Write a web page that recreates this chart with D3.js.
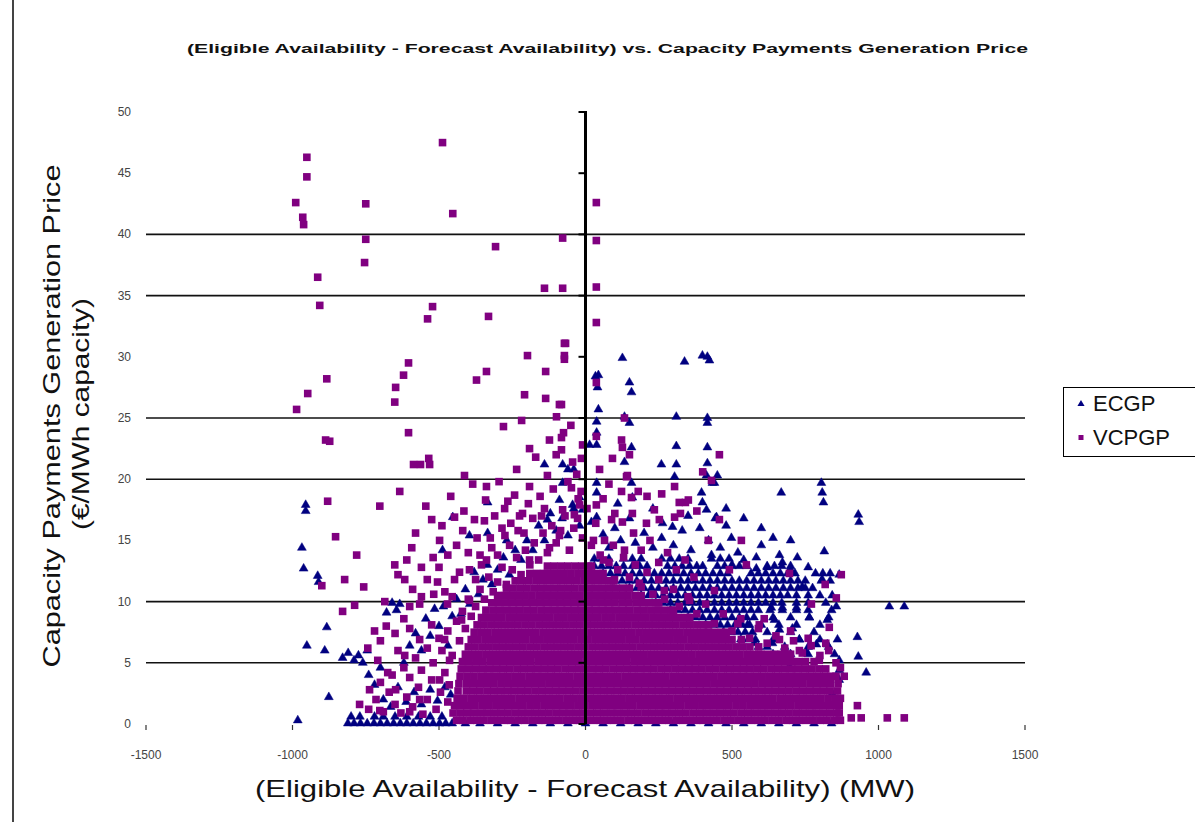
<!DOCTYPE html>
<html>
<head>
<meta charset="utf-8">
<script src="https://cdn.jsdelivr.net/npm/d3@7"></script>
<style>
  body { margin: 0; background: #fff; }
  text { font-family: Arial, "Liberation Sans", sans-serif; }
</style>
</head>
<body>
<div id="container"></div>
<script>
/* DATA */
var xTicks = [-1500, -1000, -500, 0, 500, 1000, 1500];
var yTicks = [0, 5, 10, 15, 20, 25, 30, 35, 40, 45, 50];
var gridValues = [5, 10, 20, 25, 35, 40];
var seriesNames = ['ECGP', 'VCPGP'];

// dense bottom mass of VCPGP, read row by row: [price, [MW values]]
var vcpgpCore = [
  [0.3, [-440,-418,-394,-371,-348,-323,-301,-277,-254,-230,-207,-183,-160,-137,-113,-90,-66,-43,-20,4,27,51,74,98,121,145,168,191,215,238,262,285,309,332,356,379,402,426,449,473,496,520,543,566,590,613,637,660,684,707,730,754,777,801,824,848,870]],
  [0.9, [-452,-428,-405,-382,-358,-335,-311,-288,-265,-241,-218,-195,-171,-148,-125,-101,-78,-55,-31,-8,16,39,62,86,109,133,156,179,203,226,250,273,296,320,343,367,390,413,437,460,484,507,531,554,577,601,624,648,671,694,718,741,765,788,812,835,858,866]],
  [1.5, [-447,-424,-400,-377,-353,-330,-306,-283,-260,-236,-213,-189,-166,-142,-119,-96,-72,-49,-25,-2,22,45,69,92,115,139,162,186,209,233,256,279,303,326,350,373,397,420,444,467,490,514,537,561,584,608,631,655,678,701,725,748,772,795,819,842,866]],
  [2.1, [-438,-415,-391,-368,-344,-321,-297,-274,-251,-227,-204,-180,-157,-133,-110,-87,-63,-40,-16,7,31,54,78,101,124,148,171,195,218,242,265,288,312,335,359,382,406,429,453,476,499,523,546,570,593,617,640,664,687,710,734,757,781,804,828,851,870]],
  [2.7, [-435,-407,-383,-360,-336,-313,-290,-266,-243,-219,-196,-172,-149,-126,-102,-79,-55,-32,-8,15,38,62,85,109,132,156,179,202,226,249,273,296,320,343,366,390,413,437,460,484,507,530,554,577,601,624,648,671,694,718,741,765,788,812,835,860]],
  [3.3, [-432,-406,-382,-359,-335,-312,-288,-265,-242,-218,-195,-171,-148,-124,-101,-78,-54,-31,-7,16,40,63,86,110,133,157,180,204,227,250,274,297,321,344,368,391,414,438,461,485,508,532,555,578,602,625,649,672,696,719,742,766,789,813,836,862]],
  [3.9, [-428,-404,-381,-357,-334,-311,-287,-264,-240,-217,-193,-170,-147,-123,-100,-76,-53,-29,-6,17,41,64,88,111,135,158,181,205,228,252,275,299,322,345,369,392,416,439,463,486,509,533,556,580,603,627,650,673,697,720,744,767,791,814,837,855]],
  [4.5, [-424,-399,-375,-351,-328,-304,-281,-258,-234,-211,-187,-164,-140,-117,-94,-70,-47,-23,0,24,47,70,94,117,141,164,188,211,234,258,281,305,328,352,375,398,422,445,469,492,516,539,562,586,609,633,656,680,703,726,750,773,797,820]],
  [5.1, [-420,-397,-373,-350,-326,-303,-280,-256,-233,-209,-186,-162,-139,-116,-92,-69,-45,-22,2,25,48,72,95,119,142,166,189,212,236,259,283,306,330,353,376,400,423,447,470,494,517,540,564,587,611,634,658,681,704,728,751,780]],
  [5.7, [-410,-386,-363,-339,-316,-293,-269,-246,-222,-199,-175,-152,-129,-105,-82,-58,-35,-11,12,35,59,82,106,129,153,176,199,223,246,270,293,317,340,363,387,410,434,457,481,504,527,551,574,598,621,645,668,691,700]],
  [6.3, [-400,-377,-353,-330,-306,-283,-260,-236,-213,-189,-166,-142,-119,-96,-72,-49,-25,-2,22,45,69,92,115,139,162,186,209,233,256,279,303,326,350,373,397,420,444,467,490,514,537,561,591]],
  [6.9, [-390,-367,-343,-320,-296,-273,-250,-226,-203,-179,-156,-132,-109,-86,-62,-39,-15,8,32,55,79,102,125,149,172,196,219,243,266,289,313,336,360,383,407,430,453,477,500,532]],
  [7.5, [-380,-356,-333,-309,-286,-263,-239,-216,-192,-169,-145,-122,-99,-75,-52,-28,-5,19,42,65,89,112,136,159,183,206,229,253,276,300,323,347,370,393,417,440,464,480]],
  [8.1, [-370,-347,-323,-300,-276,-253,-230,-206,-183,-159,-136,-112,-89,-66,-42,-19,5,28,52,75,98,122,145,169,192,216,239,262,286,309,333,356,380,403,420]],
  [8.7, [-355,-332,-308,-285,-261,-238,-214,-191,-168,-144,-121,-97,-74,-50,-27,-4,20,43,67,90,114,137,160,184,207,231,254,277,301,324,348,356]],
  [9.3, [-340,-316,-293,-269,-246,-223,-199,-176,-152,-129,-105,-82,-59,-35,-12,12,35,59,82,105,129,152,176,199,223,246,269,293,300]],
  [9.9, [-320,-297,-273,-250,-226,-203,-180,-156,-133,-109,-86,-62,-39,-16,8,31,55,78,101,125,148,172,195,218,242,250]],
  [10.5, [-300,-276,-253,-229,-206,-183,-159,-136,-112,-89,-65,-42,-19,5,28,52,75,98,122,145,169,190]],
  [11.1, [-270,-247,-223,-200,-176,-153,-130,-106,-83,-59,-36,-12,11,34,58,81,105,128,150]],
  [11.7, [-240,-216,-193,-169,-146,-123,-99,-76,-52,-29,-5,18,41,65,88,95]],
  [12.3, [-190,-167,-143,-120,-96,-73,-50,-26,-3,21,44,60]],
  [12.9, [-130,-107,-83,-60,-36,-13,11,20]]
];

// dense ECGP mass that shows above the VCPGP mass on the right, plus the bottom row
var ecgpCore = [
  [0.05, [-811,-790,-768,-745,-722,-700,-677,-655,-632,-610,-588,-565,-543,-520,-498,-477,-455,-410,-360,-300,-240,-180,-120,-60,0,60,120,180,240,300,360,420,480,540,600,660,720,780,840]],
  [0.6, [-800,-770,-720,-690,-650,-610,-570,-530,-490]],
  [5.7, [640,700,760,850]],
  [6.3, [590,620,680,760,830]],
  [6.9, [530,555,580,640,730,800,860]],
  [7.5, [470,495,520,545,570,620,700,780]],
  [8.1, [410,435,460,485,510,535,560,600,660,720,800]],
  [8.7, [350,375,400,425,450,475,500,525,550,575,640,700,764,830]],
  [9.3, [290,315,340,365,390,415,440,465,490,515,540,565,590,630,672,720,760,840]],
  [9.9, [240,265,290,315,340,365,390,415,440,465,490,515,540,565,590,615,640,670,720,760,820]],
  [10.5, [190,215,240,265,290,315,340,365,390,415,440,465,490,515,540,565,590,615,640,665,690,720,760,800]],
  [11.1, [150,175,200,225,250,275,300,325,350,375,400,425,450,475,500,525,550,575,600,625,650,675,700,725,750,775]],
  [11.7, [100,125,150,175,200,225,250,275,300,325,350,375,400,425,450,475,500,525,550,575,600,625,650,675,700,725,750,805,835]],
  [12.3, [60,85,110,135,160,185,210,235,260,285,310,335,360,385,410,435,460,485,565,590,615,640,665,690,715,785,810,835]],
  [12.9, [30,55,80,105,130,160,185,210,280,305,330,355,380,400,450,475,500,525,550,620,645,670,700]],
  [13.5, [30,55,80,130,160,190,260,290,320,350,430,460,490]]
];

// single ECGP points [MW, price]
var ecgpScatter = [
  [-955,17.9],[-955,17.4],[-968,14.4],[-962,12.7],[-914,12.1],[-911,11.6],[-883,7.9],[-951,6.4],[-890,6.0],[-876,2.2],[-982,0.3],
  [-488,14.2],[-453,16.9],[-334,18.1],[-334,15.6],[-396,15.4],[-269,15.0],
  [126,29.9],[44,28.5],[41,27.5],[150,27.9],[157,27.1],[338,29.6],[399,30.1],[423,29.7],[416,30.0],[44,25.7],[38,24.7],[133,25.1],[150,24.6],
  [310,25.1],[416,25.0],[416,24.6],[38,23.8],[14,22.8],[38,22.8],[157,22.6],[310,22.7],[416,22.6],[-78,21.2],[-60,20.8],[-40,20.8],[133,21.4],
  [259,21.2],[310,21.2],[416,21.3],[304,20.2],[413,20.3],[450,20.3],[38,19.7],[157,19.7],[433,19.7],[-78,19.7],[38,18.9],[160,18.5],[396,18.9],
  [399,18.1],[413,17.5],[447,16.9],[-20,18.5],[-10,17.5],[-44,17.9],[38,16.9],[150,16.8],[263,16.4],[297,16.1],[20,16.5],
  [-89,18.3],[-130,16.7],[-140,21.2],[34,28.4],
  [440,19.7],[668,18.9],[805,19.7],[808,18.9],[812,18.1],[931,17.1],[934,16.5],[443,16.8],[498,15.2],[815,14.1],[583,13.6],[662,13.8],[723,13.6],
  [583,12.7],[672,13.2],[866,12.2],[808,11.8],[740,11.2],[842,10.5],[856,9.6],[1037,9.6],[1088,9.6],[825,8.5],[928,7.1],[931,5.5],[958,4.2],
  [866,5.2],[866,4.4],[866,3.6],[842,2.5],[788,6.5],[825,6.5],[730,6.9],[706,7.8],[662,7.7],[645,8.5],[764,8.7],[672,9.5],[720,9.5],[634,9.5],
  [553,8.1],[576,6.6],[638,6.6],[686,5.8],[754,5.8],[696,4.7],[791,3.6],[832,3.3],
  [60,15.5],[80,14.4],[100,16.0],[120,15.0],[170,14.8],[200,15.6],[230,14.4],[260,15.2],[300,14.6],[330,15.8],[360,14.2],[390,16.0],[420,15.0],
  [460,14.4],[480,16.2],[520,14.0],[540,13.4],[600,14.6],[620,12.8],[700,12.6],[760,12.8],[350,17.0],[230,17.6],[110,18.0],[480,17.6],[500,13.0],
  [430,13.8],[540,16.8],[600,16.0],[640,15.2],[700,15.0],
  [-690,2.0],[-665,1.4],[-640,3.0],[-612,1.8],[-585,2.6],[-560,1.6],[-530,2.8],[-505,1.9],[-480,3.0],[-460,2.4],[-620,5.0],[-600,6.4],[-580,7.4],
  [-560,6.0],[-545,8.6],[-530,7.2],[-515,9.4],[-500,8.0],[-485,9.6],[-470,6.4],[-455,8.8],[-440,10.2],[-425,9.0],[-410,11.0],[-395,9.8],[-380,12.4],
  [-365,10.6],[-350,11.8],[-335,13.0],[-320,11.4],[-300,12.6],[-280,13.6],[-260,12.2],[-240,14.2],[-220,13.4],[-200,15.0],[-180,14.2],[-160,16.2],
  [-140,15.0],[-120,17.2],[-100,15.8],[-80,16.8],[-60,15.4],[-40,17.6],[-20,16.2],[-679,9.1],[-660,9.9],[-645,9.3],[-634,9.8],[-829,5.4],[-810,5.8],
  [-790,5.2],[-775,5.6],[-760,5.0],[-745,6.0],[-740,4.0],[-720,3.2],[-700,4.6]
];

// single VCPGP points [MW, price]
var vcpgpScatter = [
  [-488,47.5],[-951,46.3],[-951,44.7],[-989,42.6],[-750,42.5],[-453,41.7],[-965,41.4],[-962,40.8],[-750,39.6],[-754,37.7],[-914,36.5],[-907,34.2],
  [-522,34.1],[-539,33.1],[-307,39.0],[-78,39.7],[37,42.6],[37,39.5],[37,35.7],[37,32.8],[-140,35.6],[-78,35.6],[-331,33.3],[-68,31.1],[-72,30.1],
  [-198,30.1],[-136,28.8],[-338,28.8],[-372,28.1],[-604,29.5],[-621,28.5],[-648,27.5],[-651,26.3],[-883,28.2],[-948,27.0],[-986,25.7],[-887,23.2],
  [-873,23.1],[-604,23.8],[-535,21.7],[-532,21.2],[-587,21.2],[-280,24.3],[-218,24.8],[-208,26.9],[-136,26.6],[-89,26.1],[-99,25.1],[-191,22.5],
  [-123,23.2],[-75,23.8],[-880,18.2],[-634,19.0],[-702,17.8],[-563,21.2],[-413,20.3],[-338,19.4],[-853,15.3],[-781,13.8],[-822,11.8],[-900,11.3],
  [-788,9.7],[-757,11.2],[-685,10.0],[-651,13.0],[-617,11.8],[-593,14.4],[-498,15.0],[-525,16.7],[-447,16.9],[-419,15.8],[-379,16.7],[-341,18.3],
  [-276,17.6],[-242,18.7],[-191,19.4],[-130,20.3],[-44,21.4],[-10,22.8],[48,20.8],[92,21.7],[123,23.2],[133,25.0],[143,20.3],[123,19.0],[89,16.7],
  [164,15.6],[133,14.2],[252,16.7],[324,17.2],[351,18.3],[457,22.0],[430,19.9],[457,16.7],[419,15.0],[532,15.0],[549,13.0],[696,12.3],[818,11.4],
  [873,12.2],[771,9.8],[832,7.9],[856,10.3],[883,3.9],[928,1.5],[941,0.5],[1030,0.5],[1088,0.5],[907,0.5],
  [-566,9.8],[-518,10.6],[-471,9.8],[-447,11.8],[-396,12.6],[-396,10.1],[-338,13.4],[-300,13.8],[-259,14.6],[-191,13.4],[-123,14.4],[-89,15.4],
  [-38,17.1],[-20,17.9],[27,15.0],[61,13.4],[99,11.8],[184,11.5],[269,10.9],[355,10.1],[440,10.9],[491,12.6],[593,8.1],[662,6.9],[730,6.0],[798,5.2],
  [-829,9.2],[-743,6.2],[-709,5.2],[-675,4.2],[-737,2.8],[-648,2.8],[-617,5.6],[-566,6.9],[-525,8.1],[-464,5.2],[-498,3.6],[-566,2.0],[-702,1.1],
  [-771,1.6],[-600,1.0],[-481,6.9],[-423,8.5],
  [-72,31.1],[-72,29.8],[37,27.9],[37,23.5],[126,22.6],[150,22.0],[-14,21.7],[-82,23.4],[-82,22.4],[-82,26.1],[140,20.2],[304,19.4],[320,18.1],
  [341,18.1],[157,18.5],[-48,19.3],[-78,17.5],[235,17.5],[37,17.9],[126,16.5],[208,16.4],[304,16.9],[-27,16.8],
  [-740,1.2],[-715,2.0],[-690,1.0],[-670,2.6],[-650,1.6],[-630,0.9],[-610,2.2],[-590,1.4],[-570,3.0],[-555,0.8],[-540,2.0],[-525,3.6],[-510,1.2],
  [-495,2.6],[-480,4.2],[-470,1.8],[-465,3.2],[-700,3.4],[-660,4.0],[-620,4.6],[-600,3.8],[-580,5.4],[-560,4.4],[-540,6.2],[-520,5.0],[-500,7.0],
  [-490,6.0],[-470,7.6],[-455,5.6],[-440,8.4],[-430,6.8],[-420,9.2],[-410,7.8],[-400,10.2],[-390,8.8],[-375,9.6],[-360,11.0],[-345,10.2],[-330,12.0],
  [-315,10.8],[-300,11.6],[-285,12.8],[-270,11.4],[-250,12.6],[-235,13.6],[-220,12.2],[-205,14.2],[-190,13.0],[-175,14.8],[-160,13.4],[-145,15.6],
  [-130,14.0],[-115,16.2],[-100,14.8],[-85,15.8],[-70,17.0],[-55,14.2],[-40,16.0],[-25,18.4],[-10,15.2],[5,17.6],[20,14.6],[35,16.4],[50,13.8],
  [65,15.0],[80,13.2],[95,14.6],[110,12.6],[130,13.6],[150,12.0],[170,13.0],[190,11.2],[210,12.4],[230,10.6],[250,11.8],[270,10.2],[300,11.0],
  [320,9.6],[350,10.4],[380,9.0],[410,9.8],[440,8.2],[470,9.0],[500,7.6],[530,8.6],[560,7.0],[590,7.8],[620,6.6],[650,7.2],[680,6.2],[710,6.8],
  [740,5.8],[770,6.4],[800,5.6],[830,6.0],[855,5.0],[870,4.6],
  [-640,12.2],[-610,13.4],[-580,15.6],[-560,12.8],[-545,17.8],[-520,13.6],[-505,11.6],[-490,16.2],[-470,13.8],[-460,18.6],[-440,14.6],[-430,12.4],
  [-415,17.4],[-400,14.0],[-385,19.6],[-370,15.2],[-355,13.0],[-345,16.6],[-325,15.2],[-310,17.0],[-295,19.8],[-285,16.0],[-265,18.2],[-255,16.4],
  [-235,20.8],[-225,17.0],[-210,15.6],[-195,18.0],[-180,16.8],[-170,21.8],[-155,18.6],[-140,17.6],[-110,19.2],[-100,22.0],[-60,19.8],[-50,24.4],
  [-30,20.4],[-15,19.0],[-560,10.4],[-540,11.8],[-500,12.8],[-480,10.8],[-455,10.4],[-375,11.8],[-360,13.8],[-320,14.4],[-275,15.4],[-230,15.8],
  [-215,17.2],[-150,17.0],[-620,8.6],[-600,9.6],[-590,11.0],[-650,7.4],[-680,8.0],[-700,6.8],[-720,7.6],[-640,6.0],[-600,7.8],
  [160,17.2],[190,14.2],[220,15.0],[250,13.2],[280,14.0],[310,12.6],[340,13.4],[370,12.0],[60,18.4],[80,19.6],[100,17.2],[180,19.0],[210,18.6],
  [260,18.8],[380,17.4],[400,20.6],[520,8.2],[610,8.6],[700,7.6],[760,7.0],[820,6.6]
];

/* SIZES AND SCALES */
var width = 1195, height = 822;
var navy = '#000080', purple = '#800080';

var x = d3.scaleLinear().domain([-1500, 1500]).range([146, 1025]);
var y = d3.scaleLinear().domain([0, 50]).range([724, 112]);

function flatten(rows) {
  var out = [];
  rows.forEach(function(r) {
    r[1].forEach(function(v) { out.push([v, r[0]]); });
  });
  return out;
}
var ecgp = flatten(ecgpCore).concat(ecgpScatter);
var vcpgp = flatten(vcpgpCore).concat(vcpgpScatter);

var svg = d3.select('#container').append('svg')
  .attr('width', width)
  .attr('height', height)
  .style('background', '#fff');

// left border of the chart area
svg.append('line')
  .attr('x1', 13).attr('x2', 13).attr('y1', 0).attr('y2', height)
  .attr('stroke', '#444').attr('stroke-width', 2);

// title
svg.append('text')
  .attr('x', 187).attr('y', 53)
  .attr('textLength', 841).attr('lengthAdjust', 'spacingAndGlyphs')
  .style('font-size', '13px').style('font-weight', 'bold').attr('fill', '#111')
  .text('(Eligible Availability - Forecast Availability) vs. Capacity Payments Generation Price');

// gridlines
svg.append('g').selectAll('line').data(gridValues).enter().append('line')
  .attr('x1', x(-1500)).attr('x2', x(1500))
  .attr('y1', function(d) { return y(d); })
  .attr('y2', function(d) { return y(d); })
  .attr('stroke', '#111').attr('stroke-width', 1.6);

// y tick labels at the left
svg.append('g').selectAll('text').data(yTicks).enter().append('text')
  .attr('x', 131).attr('y', function(d) { return y(d) + 4; })
  .attr('text-anchor', 'end')
  .style('font-size', '12px').attr('fill', '#444')
  .text(function(d) { return d; });

// x ticks and labels
svg.append('g').selectAll('line').data(xTicks).enter().append('line')
  .attr('x1', function(d) { return x(d); }).attr('x2', function(d) { return x(d); })
  .attr('y1', y(0) + 1).attr('y2', y(0) + 6)
  .attr('stroke', '#333').attr('stroke-width', 1.2);
svg.append('g').selectAll('text').data(xTicks).enter().append('text')
  .attr('x', function(d) { return x(d); }).attr('y', 759)
  .attr('text-anchor', 'middle')
  .style('font-size', '12px').attr('fill', '#444')
  .text(function(d) { return d; });

// points
svg.append('g').selectAll('path').data(ecgp).enter().append('path')
  .attr('d', d3.symbol().type(d3.symbolTriangle).size(34))
  .attr('transform', function(d) { return 'translate(' + x(d[0]) + ',' + y(d[1]) + ')'; })
  .attr('fill', navy).attr('stroke', navy).attr('stroke-opacity', 0.5).attr('stroke-width', 1);

svg.append('g').selectAll('rect').data(vcpgp).enter().append('rect')
  .attr('x', function(d) { return x(d[0]) - 3.8; })
  .attr('y', function(d) { return y(d[1]) - 3.8; })
  .attr('width', 7.6).attr('height', 7.6)
  .attr('fill', purple);

// vertical axis at zero with ticks on the left
svg.append('line')
  .attr('x1', x(0)).attr('x2', x(0)).attr('y1', y(50) - 1).attr('y2', y(0))
  .attr('stroke', '#000').attr('stroke-width', 3);
svg.append('g').selectAll('line').data(yTicks).enter().append('line')
  .attr('x1', x(0) - 7).attr('x2', x(0))
  .attr('y1', function(d) { return y(d); })
  .attr('y2', function(d) { return y(d); })
  .attr('stroke', '#000').attr('stroke-width', 2);

// axis titles
svg.append('text')
  .attr('x', 585).attr('y', 797).attr('text-anchor', 'middle')
  .attr('textLength', 660).attr('lengthAdjust', 'spacingAndGlyphs')
  .style('font-size', '24px').attr('fill', '#111')
  .text('(Eligible Availability - Forecast Availability) (MW)');
svg.append('text')
  .attr('transform', 'translate(60,416) rotate(-90)').attr('text-anchor', 'middle')
  .attr('textLength', 503).attr('lengthAdjust', 'spacingAndGlyphs')
  .style('font-size', '24px').attr('fill', '#111')
  .text('Capacity Payments Generation Price');
svg.append('text')
  .attr('transform', 'translate(89,414) rotate(-90)').attr('text-anchor', 'middle')
  .attr('textLength', 232).attr('lengthAdjust', 'spacingAndGlyphs')
  .style('font-size', '24px').attr('fill', '#111')
  .text('(€/MWh capacity)');

// legend
var legend = svg.append('g');
legend.append('rect')
  .attr('x', 1063.5).attr('y', 387.5).attr('width', 200).attr('height', 69)
  .attr('fill', '#fff').attr('stroke', '#000').attr('stroke-width', 1);
legend.append('path')
  .attr('d', d3.symbol().type(d3.symbolTriangle).size(22))
  .attr('transform', 'translate(1081,404)').attr('fill', navy);
legend.append('rect')
  .attr('x', 1078.5).attr('y', 435).attr('width', 5).attr('height', 5).attr('fill', purple);
legend.selectAll('text.lab').data(seriesNames).enter().append('text')
  .attr('x', 1093).attr('y', function(d, i) { return 411 + i * 34; })
  .style('font-size', '22px').attr('fill', '#111')
  .text(function(d) { return d; });
</script>
</body>
</html>
